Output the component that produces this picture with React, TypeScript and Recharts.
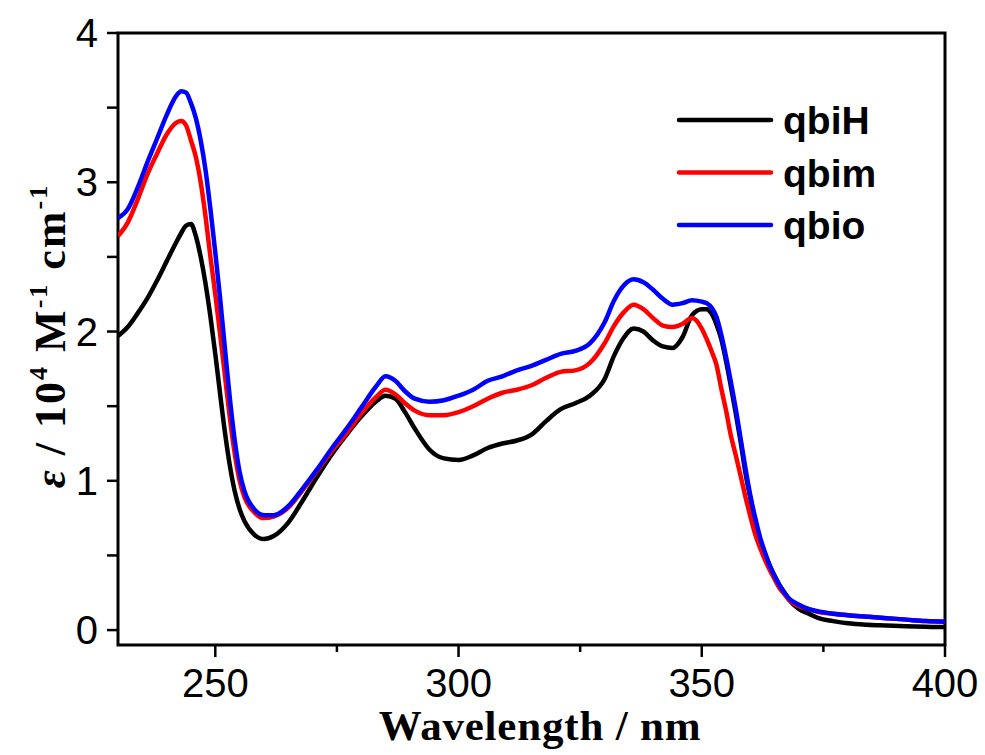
import React from 'react';
import { LineChart, Line, XAxis, YAxis, ReferenceArea } from 'recharts';

// wavelength grid (nm) shared by the three spectra
const wavelengths = [
  230, 232, 234, 236, 238, 240, 242, 243, 244, 245, 246, 247, 248, 249, 250, 251, 252, 253, 254, 255,
  256, 258, 260, 262, 265, 268, 271, 274, 277, 280, 283, 285, 287, 289, 291, 294, 297, 300, 303, 306,
  309, 312, 315, 318, 321, 324, 327, 330, 332, 334, 336, 338, 340, 342, 344, 346, 348, 350, 351, 352,
  353, 354, 355, 356, 357, 358, 359, 360, 361, 362, 363, 364, 365, 366, 367, 368, 370, 372, 374, 377,
  380, 384, 388, 392, 396, 400,
];

// epsilon / 10^4 M^-1 cm^-1
const qbiH = [
  1.97, 2.03, 2.12, 2.22, 2.34, 2.47, 2.6, 2.66, 2.71, 2.72, 2.64, 2.5, 2.32, 2.1, 1.85, 1.58, 1.32, 1.1, 0.93, 0.81,
  0.73, 0.64, 0.61, 0.63, 0.72, 0.87, 1.03, 1.18, 1.31, 1.43, 1.53, 1.57, 1.55, 1.46, 1.35, 1.21, 1.15, 1.14, 1.17, 1.22,
  1.25, 1.27, 1.31, 1.4, 1.48, 1.52, 1.57, 1.68, 1.84, 1.96, 2.02, 2.0, 1.94, 1.9, 1.89, 1.96, 2.11, 2.15, 2.15, 2.12,
  2.05, 1.95, 1.8, 1.63, 1.45, 1.26, 1.05, 0.88, 0.72, 0.6, 0.51, 0.43, 0.36, 0.3, 0.25, 0.2, 0.14, 0.11, 0.08, 0.06,
  0.045, 0.035, 0.03, 0.025, 0.022, 0.02,
];

const qbim = [
  2.64, 2.73, 2.88, 3.05, 3.19, 3.32, 3.4, 3.41, 3.38, 3.28, 3.17, 3.0, 2.77, 2.5, 2.25, 1.98, 1.7, 1.42, 1.18, 1.0,
  0.89, 0.79, 0.75, 0.76, 0.82, 0.94, 1.07, 1.2, 1.32, 1.45, 1.56, 1.61, 1.58, 1.52, 1.47, 1.44, 1.44, 1.46, 1.5, 1.55,
  1.59, 1.61, 1.64, 1.69, 1.73, 1.74, 1.79, 1.92, 2.04, 2.13, 2.18, 2.15, 2.09, 2.04, 2.03, 2.05, 2.09, 2.02, 1.95, 1.87,
  1.78, 1.62, 1.47, 1.3, 1.17, 1.03, 0.89, 0.76, 0.64, 0.55, 0.47, 0.4, 0.34, 0.28, 0.24, 0.2, 0.16, 0.14, 0.12, 0.11,
  0.1, 0.09, 0.08, 0.07, 0.06, 0.055,
];

const qbio = [
  2.76, 2.82, 2.96, 3.13, 3.29, 3.45, 3.58, 3.61, 3.6, 3.53, 3.43, 3.28, 3.08, 2.82, 2.53, 2.22, 1.88, 1.55, 1.27, 1.06,
  0.93, 0.81, 0.77, 0.77, 0.83, 0.95, 1.08, 1.22, 1.35, 1.49, 1.63, 1.7, 1.67, 1.6, 1.55, 1.53, 1.54, 1.57, 1.61, 1.67,
  1.7, 1.74, 1.77, 1.81, 1.85, 1.87, 1.92, 2.06, 2.21, 2.31, 2.35, 2.33, 2.28, 2.22, 2.18, 2.19, 2.21, 2.2, 2.19, 2.16,
  2.1, 1.98, 1.83, 1.66, 1.48, 1.28, 1.08, 0.9, 0.75, 0.62, 0.52, 0.43, 0.36, 0.3, 0.25, 0.21, 0.17, 0.14, 0.125, 0.11,
  0.1, 0.09, 0.08, 0.07, 0.06, 0.055,
];

const seriesNames = ['qbiH', 'qbim', 'qbio'];
const seriesColors = ['#000000', '#ff0000', '#0000ff'];

const xTicks = [250, 275, 300, 325, 350, 375, 400];
const xLabels = [250, 300, 350, 400];
const yTicks = [0, 0.5, 1, 1.5, 2, 2.5, 3, 3.5, 4];
const yLabels = [0, 1, 2, 3, 4];

const data = wavelengths.map((w, i) => ({ w, qbiH: qbiH[i], qbim: qbim[i], qbio: qbio[i] }));

const sans = '"Liberation Sans", Arial, sans-serif';
const serif = '"Liberation Serif", "Times New Roman", serif';

const XTick = (props: any) => {
  const { x, y, payload } = props;
  const major = xLabels.includes(payload.value);
  return (
    <g>
      <line x1={x} x2={x} y1={y} y2={y + (major ? 12 : 7)} stroke="#000" strokeWidth={2.5} />
      {major && (
        <text x={x} y={y + 52} textAnchor="middle" fontFamily={sans} fontSize={40} fill="#000">
          {payload.value}
        </text>
      )}
    </g>
  );
};

const YTick = (props: any) => {
  const { x, y, payload } = props;
  const major = yLabels.includes(payload.value);
  return (
    <g>
      <line x1={x - 11} x2={x} y1={y} y2={y} stroke="#000" strokeWidth={2.5} />
      {major && (
        <text x={x - 20} y={y + 14} textAnchor="end" fontFamily={sans} fontSize={40} fill="#000">
          {payload.value}
        </text>
      )}
    </g>
  );
};

export default function App() {
  return (
    <div style={{ position: 'absolute', left: 0, top: 0, width: 985, height: 755, background: '#fff' }}>
      <LineChart width={985} height={755} data={data} margin={{ top: 33, right: 40, bottom: 0, left: 0 }}>
        <XAxis
          dataKey="w"
          type="number"
          domain={[230, 400]}
          ticks={xTicks}
          interval={0}
          height={110}
          tickSize={0}
          tickMargin={0}
          axisLine={false}
          tickLine={false}
          tick={XTick}
          allowDataOverflow
        />
        <YAxis
          type="number"
          domain={[-0.1, 4]}
          ticks={yTicks}
          interval={0}
          width={118}
          tickSize={0}
          tickMargin={0}
          axisLine={false}
          tickLine={false}
          tick={YTick}
          allowDataOverflow
        />
        {seriesNames.map((name, i) => (
          <Line
            key={name}
            dataKey={name}
            name={name}
            type="monotone"
            stroke={seriesColors[i]}
            strokeWidth={4.5}
            dot={false}
            isAnimationActive={false}
          />
        ))}
        <ReferenceArea x1={230} x2={400} y1={-0.1} y2={4} fill="none" fillOpacity={0} stroke="#000" strokeWidth={3} />
      </LineChart>
      <svg
        width={985}
        height={755}
        style={{ position: 'absolute', left: 0, top: 0, pointerEvents: 'none' }}
      >
        {seriesNames.map((name, i) => (
          <g key={name}>
            <line
              x1={679}
              x2={771}
              y1={120 + i * 52.5}
              y2={120 + i * 52.5}
              stroke={seriesColors[i]}
              strokeWidth={4.5}
              strokeLinecap="round"
            />
            <text x={783} y={134 + i * 52.5} fontFamily={sans} fontWeight="bold" fontSize={39} fill="#000">
              {name}
            </text>
          </g>
        ))}
        <text
          x={540}
          y={740}
          textAnchor="middle"
          fontFamily={serif}
          fontWeight="bold"
          fontSize={43}
          letterSpacing={0.8}
          fill="#000"
        >
          Wavelength / nm
        </text>
        <text
          transform="translate(65, 336) rotate(-90)"
          textAnchor="middle"
          fontFamily={serif}
          fontWeight="bold"
          fontSize={44}
          letterSpacing={2}
          fill="#000"
        >
          <tspan fontStyle="italic">ε</tspan>
          <tspan> / 10</tspan>
          <tspan fontSize={26} dy={-18}>4</tspan>
          <tspan dy={18}> M</tspan>
          <tspan fontSize={26} dy={-18}>-1</tspan>
          <tspan dy={18}> cm</tspan>
          <tspan fontSize={26} dy={-18}>-1</tspan>
        </text>
      </svg>
    </div>
  );
}
